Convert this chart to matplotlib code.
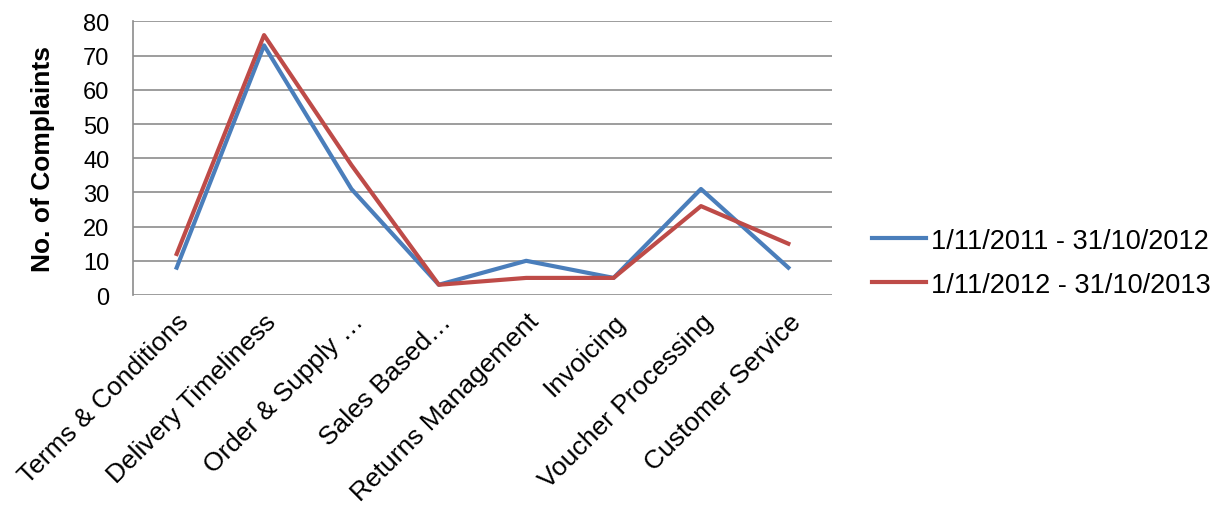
import matplotlib.pyplot as plt
import numpy as np

plt.rcParams['font.family'] = ['Liberation Sans', 'DejaVu Sans']

categories = ['Terms & Conditions', 'Delivery Timeliness', 'Order & Supply …', 'Sales Based…',
              'Returns Management', 'Invoicing', 'Voucher Processing', 'Customer Service']
period_1 = [8, 73, 31, 3, 10, 5, 31, 8]
period_2 = [12, 76, 38, 3, 5, 5, 26, 15]
labels = ['1/11/2011 - 31/10/2012', '1/11/2012 - 31/10/2013']

fig = plt.figure(figsize=(12.2, 5.1), dpi=100)
ax = fig.add_axes([0.109, 0.4196, 0.573, 0.5364])

x = np.arange(len(categories))
ax.plot(x, period_1, color='#4A7EBB', linewidth=3, label=labels[0])
ax.plot(x, period_2, color='#BE4B48', linewidth=3, label=labels[1])

ax.set_xlim(-0.5, len(categories) - 0.5)
ax.set_ylim(0, 80)
ax.set_yticks(np.arange(0, 81, 10))
ax.yaxis.grid(True, color='#8c8c8c', linewidth=1.2)
ax.set_axisbelow(True)
for s in ['top', 'right', 'bottom']:
    ax.spines[s].set_visible(False)
ax.spines['left'].set_color('#8c8c8c')
ax.spines['left'].set_linewidth(1.2)

ax.set_xticks(x)
ax.set_xticklabels(categories, rotation=45, ha='right', rotation_mode='anchor', fontsize=19)
ax.tick_params(axis='x', length=0, pad=10)
ax.tick_params(axis='y', length=0, labelsize=17, pad=17)
ax.set_ylabel('No. of Complaints', fontsize=19, fontweight='bold', labelpad=20)

fig.legend(loc='center left', bbox_to_anchor=(0.7148, 0.483), frameon=False, fontsize=19.5,
           borderaxespad=0, borderpad=0, handlelength=2.0, handletextpad=0.18, labelspacing=0.66)

fig.savefig('out.png', dpi=100)
